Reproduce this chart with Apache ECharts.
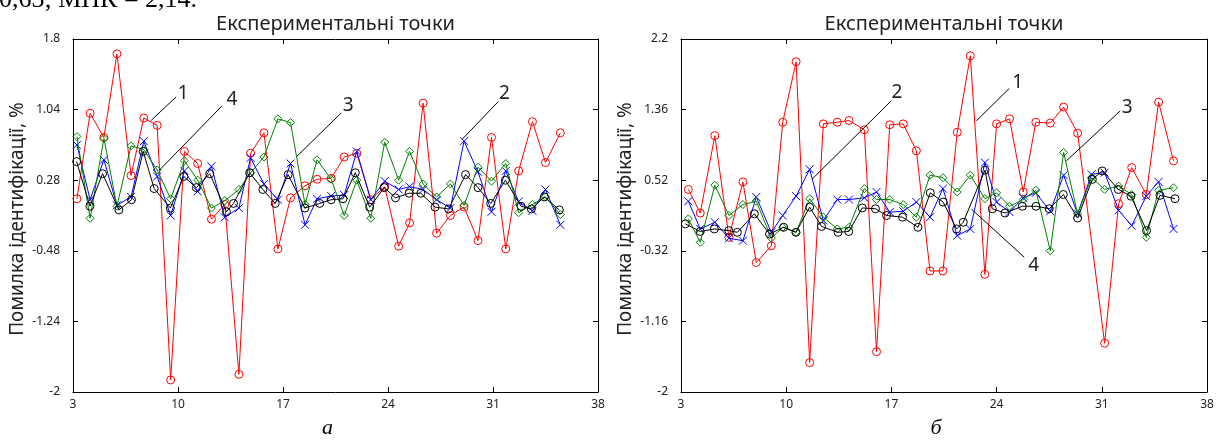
<!DOCTYPE html>
<html><head><meta charset="utf-8">
<script src="https://cdn.jsdelivr.net/npm/echarts/dist/echarts.min.js"></script>
<style>html,body{margin:0;padding:0;background:#fff;overflow:hidden}#c{width:1218px;height:440px}</style>
</head><body><div id="c"></div>
<script>
const titleText = 'Експериментальні точки';
const yAxisName = 'Помилка ідентифікації, %';
const panelLetters = ['а', 'б'];
const headerText = '0,63; МНК = 2,14.';
const xRange = [3, 38, 7];
const leftYRange = [-2, 1.8, 0.76];
const rightYRange = [-2, 2.2, 0.84];

// left panel (а)
const leftX = [3.26,4.14,5.06,5.93,6.87,7.72,8.61,9.51,10.43,11.31,12.23,13.12,14.06,14.84,15.73,16.66,17.50,18.47,19.27,20.21,21.08,21.92,22.85,23.78,24.71,25.44,26.34,27.24,28.16,29.07,30.00,30.90,31.85,32.71,33.63,34.50,35.49];
const leftRed = [0.08,1.00,0.74,1.64,0.33,0.95,0.87,-1.87,0.59,0.46,-0.14,0.02,-1.81,0.57,0.79,-0.46,0.09,0.22,0.29,0.30,0.53,0.57,0.07,0.21,-0.43,-0.18,1.11,-0.29,-0.10,-0.01,-0.37,0.74,-0.46,0.38,0.91,0.47,0.79];
const leftBlue = [0.66,0.07,0.50,0.01,0.10,0.70,0.32,-0.10,0.38,0.16,0.43,-0.12,-0.02,0.52,0.24,0.07,0.46,-0.20,0.08,0.11,0.12,0.59,0.07,0.27,0.18,0.21,0.18,0.07,-0.02,0.70,0.37,-0.06,0.38,0.05,-0.05,0.18,-0.20];
const leftGreen = [0.75,-0.13,0.73,0.00,0.65,0.61,0.39,0.08,0.49,0.28,-0.02,0.06,0.18,0.36,0.53,0.94,0.90,0.02,0.50,0.29,-0.10,0.28,-0.13,0.69,0.28,0.59,0.24,0.10,0.24,0.01,0.42,0.27,0.46,-0.07,0.02,0.10,-0.09];
const leftBlackX = [3.24,4.13,4.97,6.06,6.90,7.68,8.41,9.49,10.39,11.22,12.12,13.23,13.70,14.78,15.66,16.48,17.34,18.46,19.45,20.21,21.00,21.82,22.78,23.75,24.50,25.41,26.19,27.14,28.04,29.17,30.00,30.85,31.83,32.87,33.56,34.42,35.42];
const leftBlack = [0.48,0.00,0.35,-0.04,0.07,0.59,0.19,-0.02,0.32,0.20,0.35,-0.06,0.03,0.36,0.18,0.03,0.34,-0.02,0.03,0.07,0.08,0.36,-0.01,0.20,0.09,0.14,0.14,-0.01,-0.03,0.34,0.20,0.03,0.28,0.00,-0.03,0.10,-0.04];

// right panel (б)
const rightX = [3.49,4.28,5.25,6.19,7.12,8.01,9.01,9.77,10.66,11.56,12.47,13.40,14.18,15.20,16.01,16.89,17.79,18.66,19.57,20.43,21.38,22.25,23.22,24.00,24.86,25.77,26.61,27.57,28.46,29.39,30.32,31.19,32.12,32.99,33.96,34.78,35.77];
const rightRed = [0.41,0.13,1.05,-0.16,0.50,-0.46,-0.26,1.21,1.93,-1.65,1.19,1.21,1.23,1.12,-1.52,1.18,1.19,0.87,-0.56,-0.56,1.09,2.00,-0.60,1.19,1.25,0.38,1.21,1.20,1.39,1.08,null,-1.42,0.24,0.67,0.35,1.45,0.75];
const rightBlue = [0.27,-0.06,0.02,-0.17,-0.20,0.32,-0.10,0.10,0.33,0.65,0.04,0.29,0.29,0.31,0.38,0.14,0.15,0.26,0.08,0.42,-0.14,-0.06,0.73,0.26,0.14,0.31,0.37,0.15,0.58,0.12,0.59,0.61,0.16,-0.02,0.33,0.50,-0.06];
const rightGreen = [0.06,-0.22,0.46,0.10,0.23,0.27,-0.17,-0.04,-0.10,0.30,0.08,-0.06,-0.04,0.42,0.29,0.29,0.23,0.08,0.58,0.55,0.38,0.58,0.30,0.37,0.21,0.29,0.40,-0.32,0.85,0.12,0.55,0.41,0.45,0.35,-0.16,0.40,0.43];
const rightBlackX = [3.29,4.28,5.22,6.18,6.75,7.88,8.89,9.83,10.65,11.56,12.35,13.45,14.16,15.06,15.94,16.68,17.74,18.77,19.59,20.44,21.34,21.78,23.23,23.71,24.56,25.71,26.62,27.50,28.44,29.39,30.37,31.03,32.10,32.94,33.98,34.87,35.87];
const rightBlack = [0.00,-0.09,-0.06,-0.08,-0.10,0.12,-0.12,-0.04,-0.10,0.20,-0.03,-0.10,-0.09,0.19,0.18,0.10,0.08,-0.04,0.37,0.26,-0.06,0.02,0.64,0.18,0.13,0.21,0.21,0.18,0.35,0.07,0.53,0.63,0.41,0.33,-0.08,0.34,0.30];

// annotation callouts: [label, textX, textY, lineX1, lineY1, lineX2, lineY2] in data units
const leftNotes = [
  ['1',10.34,1.208,9.87,1.176,8.21,0.923],
  ['4',13.60,1.144,12.93,1.079,8.78,0.391],
  ['3',21.35,1.079,20.88,1.004,17.92,0.536],
  ['2',31.76,1.208,31.36,1.128,28.95,0.721]
];
const rightNotes = [
  ['2',17.37,1.567,16.99,1.464,11.72,0.532],
  ['1',25.40,1.686,24.84,1.611,22.65,1.226],
  ['3',32.69,1.389,32.23,1.345,28.64,0.750],
  ['4',26.47,-0.497,25.84,-0.396,22.33,0.175]
];

const FONT = 'Noto Sans';
const grids = [
  {left: 73, top: 39, width: 525, height: 353},
  {left: 681, top: 39, width: 526, height: 353}
];
const fmt = v => String(parseFloat(v.toFixed(2)));
const crossPath = 'path://M0,0L10,10M10,0L0,10';

function xAxes(gi) {
  const base = {type: 'value', gridIndex: gi, min: xRange[0], max: xRange[1], interval: xRange[2],
    axisLine: {show: true, onZero: false, lineStyle: {color: '#000', width: 1}},
    axisTick: {show: true, inside: true, length: 5, lineStyle: {color: '#000'}},
    splitLine: {show: false}};
  return [
    Object.assign({}, base, {position: 'bottom', axisLabel: {show: true, margin: 7, fontFamily: FONT, fontSize: 12, color: '#222', formatter: fmt}}),
    Object.assign({}, base, {position: 'top', axisLabel: {show: false}})
  ];
}
function yAxes(gi, r) {
  const base = {type: 'value', gridIndex: gi, min: r[0], max: r[1], interval: r[2],
    axisLine: {show: true, onZero: false, lineStyle: {color: '#000', width: 1}},
    axisTick: {show: true, inside: true, length: 5, lineStyle: {color: '#000'}},
    splitLine: {show: false}};
  return [
    Object.assign({}, base, {position: 'left', axisLabel: {show: true, margin: 13, fontFamily: FONT, fontSize: 12, color: '#222', formatter: fmt}}),
    Object.assign({}, base, {position: 'right', axisLabel: {show: false}})
  ];
}
function pts(xs, ys) {
  const out = [];
  for (let i = 0; i < xs.length; i++) if (ys[i] !== null && ys[i] !== undefined) out.push([xs[i], ys[i]]);
  return out;
}
function ser(gi, xs, ys, color, symbol, size, z) {
  return {type: 'line', xAxisIndex: gi * 2, yAxisIndex: gi * 2, data: pts(xs, ys),
    symbol: symbol, symbolSize: size, showSymbol: true, z: z,
    lineStyle: {color: color, width: 1},
    itemStyle: {color: 'rgba(0,0,0,0)', borderColor: color, borderWidth: 1},
    emphasis: {disabled: true}, animation: false};
}

const chart = echarts.init(document.getElementById('c'), null, {renderer: 'canvas'});
const option = {
  animation: false,
  grid: grids,
  xAxis: [...xAxes(0), ...xAxes(1)],
  yAxis: [...yAxes(0, leftYRange), ...yAxes(1, rightYRange)],
  series: [
    ser(0, leftX, leftRed, '#ff0000', 'circle', 8, 2),
    ser(0, leftX, leftBlue, '#0000ff', crossPath, 8, 3),
    ser(0, leftX, leftGreen, '#008000', 'diamond', 8, 4),
    ser(0, leftBlackX, leftBlack, '#000000', 'circle', 8, 5),
    ser(1, rightX, rightRed, '#ff0000', 'circle', 8, 2),
    ser(1, rightX, rightBlue, '#0000ff', crossPath, 8, 3),
    ser(1, rightX, rightGreen, '#008000', 'diamond', 8, 4),
    ser(1, rightBlackX, rightBlack, '#000000', 'circle', 8, 5)
  ]
};
chart.setOption(option);

const g = [];
// header line cut at top
g.push({type: 'text', left: -1, top: -13, style: {text: headerText, font: '26px "Liberation Serif"', fill: '#000'}});
grids.forEach((gr, i) => {
  const cx = gr.left + gr.width / 2;
  g.push({type: 'text', x: cx, y: 24, style: {text: titleText, font: '20px "' + FONT + '"', fill: '#222', align: 'center', verticalAlign: 'middle'}});
  g.push({type: 'text', x: gr.left - 55, y: gr.top + 180, rotation: Math.PI / 2, style: {text: yAxisName, font: '19px "' + FONT + '"', fill: '#222', align: 'center', verticalAlign: 'middle'}});
  g.push({type: 'text', x: cx - 8, y: 428, style: {text: panelLetters[i], font: 'italic 22px "Liberation Serif"', fill: '#000', align: 'center', verticalAlign: 'middle'}});
});
[leftNotes, rightNotes].forEach((notes, gi) => {
  notes.forEach(n => {
    const t = chart.convertToPixel({gridIndex: gi}, [n[1], n[2]]);
    const a = chart.convertToPixel({gridIndex: gi}, [n[3], n[4]]);
    const b = chart.convertToPixel({gridIndex: gi}, [n[5], n[6]]);
    g.push({type: 'line', shape: {x1: a[0], y1: a[1], x2: b[0], y2: b[1]}, style: {stroke: '#000', lineWidth: 1}, z: 10});
    g.push({type: 'text', x: t[0], y: t[1], z: 10, style: {text: n[0], font: '19px "' + FONT + '"', fill: '#222', align: 'center', verticalAlign: 'middle'}});
  });
});
chart.setOption({graphic: g});
</script></body></html>
